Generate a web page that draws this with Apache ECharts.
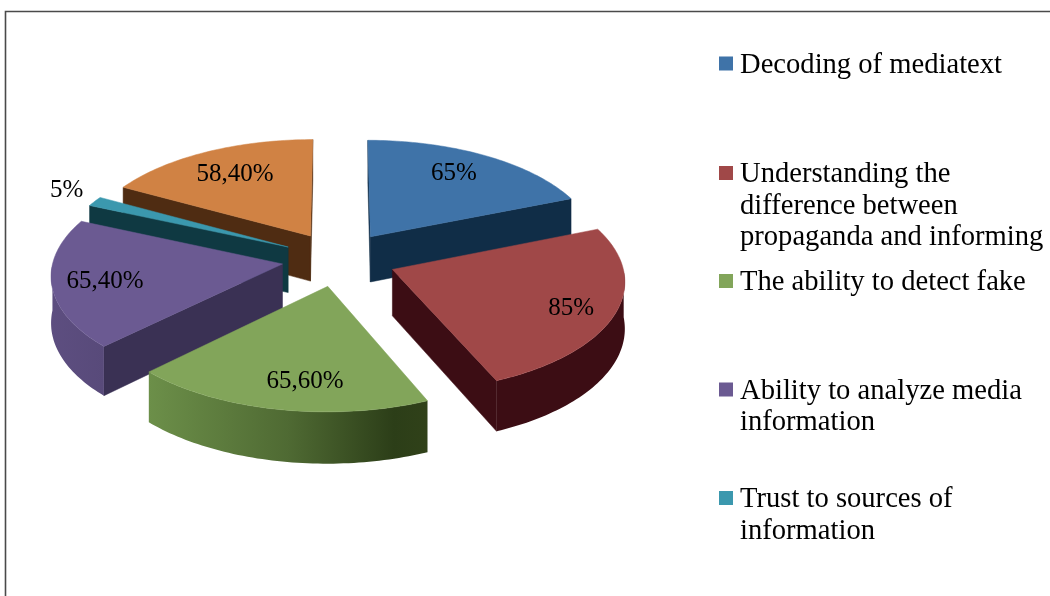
<!DOCTYPE html>
<html>
<head>
<meta charset="utf-8">
<style>html,body{margin:0;padding:0;background:#fff}#chart{width:1050px;height:596px}</style>
<script src="https://cdn.jsdelivr.net/npm/echarts@6/dist/echarts.min.js"></script>
</head>
<body>
<div id="chart"></div>
<script>
// ---- data ----
const categories = [
  'Decoding of mediatext',
  'Understanding the\ndifference between\npropaganda and informing',
  'The ability to detect fake',
  'Ability to analyze media\ninformation',
  'Trust to sources of\ninformation',
  'Other (not in legend)'
];
const values = [65, 85, 65.6, 65.4, 5, 58.4];
const valueLabels = ['65%', '85%', '65,60%', '65,40%', '5%', '58,40%'];

// ---- styles ----
const topColors  = ['#3F73A8', '#A04848', '#82A55A', '#6B5A92', '#3B98AE', '#D08244'];
const wallColors = ['#102D47', '#3C0D14', '#2C3E18', '#3A3154', '#0F3942', '#4F2C12'];
const rimColors = [
  '#102D47', '#3C0D14',
  new echarts.graphic.LinearGradient(0, 0, 1, 0, [
    {offset: 0, color: '#6C8F49'}, {offset: 0.5, color: '#4F6A33'},
    {offset: 0.88, color: '#2C3E18'}, {offset: 1, color: '#304119'}]),
  new echarts.graphic.LinearGradient(0, 0, 1, 0, [
    {offset: 0, color: '#5D4E80'}, {offset: 1, color: '#584A7A'}]),
  '#0F3942', '#4F2C12'
];
const paintOrder = [1, 3, 4, 3, 2, 1];
const labelRadius = [0.74, 0.85, 0.8, 0.81, 1.14, 0.7];
const labelNudge = [[-3, -2], [-10, 2], [17, -1], [9, 1], [-2, -5], [-1, -1]];
const legendCenters = [63.5, 173, 281, 389.5, 498];
const legendLine = 31.5;

// ---- projection of the tilted pie ----
const view = {cx: 339, cy: 259, a: 229, b: 109, persp: 0.09, explode: 0.25, depth: 46};
function project(u, v, down) {
  const w = 1 / (1 - view.persp * v);
  return [view.cx + view.a * u * w, view.cy + view.b * v * w + (down ? view.depth * w : 0)];
}
const total = values.reduce((s, x) => s + x, 0);
function sliceAngles(i) {
  let a0 = 0;
  for (let k = 0; k < i; k++) a0 += values[k];
  a0 = a0 / total * 2 * Math.PI;
  return [a0, a0 + values[i] / total * 2 * Math.PI];
}

function renderSlice(i) {
  const [a0, a1] = sliceAngles(i);
  const mid = (a0 + a1) / 2;
  const ox = view.explode * Math.sin(mid), oy = -view.explode * Math.cos(mid);
  const at = (ang, r, down) => project(ox + r * Math.sin(ang), oy - r * Math.cos(ang), down);
  const apexTop = project(ox, oy, false), apexLow = project(ox, oy, true);
  const steps = Math.max(4, Math.ceil((a1 - a0) / 0.02));
  const arcAngles = [];
  for (let s = 0; s <= steps; s++) arcAngles.push(a0 + (a1 - a0) * s / steps);
  const children = [];
  const poly = (points, fill, stroke) => children.push({
    type: 'polygon', shape: {points},
    style: {fill, stroke: stroke || fill, lineWidth: 0.5}
  });
  // radial walls facing the viewer
  const pStart = at(a0, 1, false), pEnd = at(a1, 1, false);
  if (pStart[0] < apexTop[0]) poly([apexTop, pStart, at(a0, 1, true), apexLow], wallColors[i]);
  if (pEnd[0] > apexTop[0]) poly([apexTop, pEnd, at(a1, 1, true), apexLow], wallColors[i]);
  // outer rim: only the part whose screen x runs backwards faces the viewer
  const rimAngles = arcAngles.filter(t => t >= Math.PI / 2 && t <= 3 * Math.PI / 2);
  if (rimAngles.length > 1) {
    const upper = rimAngles.map(t => at(t, 1, false));
    const lower = rimAngles.map(t => at(t, 1, true)).reverse();
    poly(upper.concat(lower), rimColors[i], 'none');
  }
  // top face
  poly([apexTop].concat(arcAngles.map(t => at(t, 1, false))), topColors[i]);
  // value label
  const lp = at(mid, labelRadius[i], false);
  children.push({
    type: 'text', z2: 10,
    style: {text: valueLabels[i], x: lp[0] + labelNudge[i][0], y: lp[1] + labelNudge[i][1],
      align: 'center', verticalAlign: 'middle',
      font: '25px "Liberation Serif"', fill: '#000'}
  });
  return {type: 'group', children};
}

const series = categories.map((name, i) => ({
  type: 'custom',
  name,
  coordinateSystem: 'none',
  z: paintOrder[i],
  silent: true,
  itemStyle: {color: topColors[i]},
  data: [[values[i]]],
  renderItem: () => renderSlice(i)
}));

const legends = categories.slice(0, 5).map((name, i) => {
  const n = name.split('\n').length;
  return {
    left: 719,
    top: legendCenters[i] + 1.5 - (2 * n - 1) * legendLine / 2,
    orient: 'vertical',
    padding: 0,
    // 14px square at the top of a 17px box: sits a little above the text centre
    icon: 'path://M0 0H14V14H0Z M0 17L0 17Z',
    itemWidth: 14,
    itemHeight: 17,
    itemGap: 0,
    selectedMode: false,
    data: [name],
    // blank lines keep the swatch level with the first line of a wrapped name
    formatter: nm => '\n'.repeat(nm.split('\n').length - 1) + nm,
    textStyle: {fontFamily: 'Liberation Serif', fontSize: 28.6, lineHeight: legendLine, color: '#000', padding: [0, 0, 0, 2]}
  };
});

const chart = echarts.init(document.getElementById('chart'), null, {renderer: 'canvas'});
chart.setOption({
  animation: false,
  backgroundColor: '#fff',
  legend: legends,
  graphic: [{
    type: 'polyline', silent: true,
    shape: {points: [[5.5, 596], [5.5, 11.5], [1050, 11.5]]},
    style: {stroke: '#4a4a4a', lineWidth: 1.6, fill: 'none'}
  }],
  series
});
</script>
</body>
</html>
